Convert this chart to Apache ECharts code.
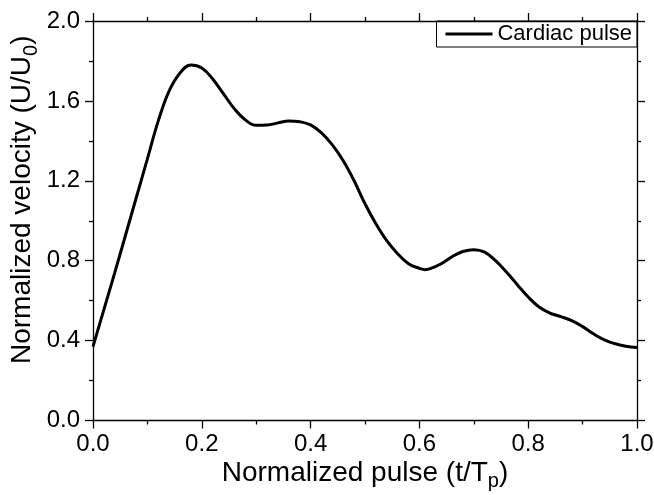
<!DOCTYPE html>
<html>
<head>
<meta charset="utf-8">
<script src="https://cdn.jsdelivr.net/npm/echarts@6/dist/echarts.min.js"></script>
<style>
html,body{margin:0;padding:0;background:#fff;}
#c{width:654px;height:495px;}
</style>
</head>
<body>
<div id="c"></div>
<script>
const seriesName = 'Cardiac pulse';
const tValues = [0.00,0.02,0.04,0.06,0.08,0.10,0.12,0.14,0.16,0.18,0.20,0.22,0.24,0.26,0.28,0.30,0.32,0.34,0.36,0.38,0.40,0.42,0.44,0.46,0.48,0.50,0.52,0.54,0.56,0.58,0.60,0.61,0.62,0.64,0.66,0.68,0.70,0.72,0.74,0.76,0.78,0.80,0.82,0.84,0.86,0.88,0.90,0.92,0.94,0.96,0.98,1.00];
const velocity = [0.37,0.555,0.74,0.93,1.12,1.31,1.50,1.65,1.74,1.78,1.765,1.71,1.635,1.56,1.505,1.478,1.479,1.49,1.50,1.496,1.48,1.44,1.38,1.30,1.20,1.085,0.985,0.90,0.835,0.785,0.762,0.755,0.76,0.785,0.82,0.846,0.855,0.843,0.80,0.743,0.68,0.618,0.568,0.538,0.52,0.50,0.47,0.434,0.404,0.384,0.372,0.365];
const xTitle = 'Normalized pulse (t/T{sub|p})';
const yTitle = 'Normalized velocity (U/U{sub|0})';

const chart = echarts.init(document.getElementById('c'), null, {renderer:'canvas'});
const FONT = '"Liberation Sans", Arial, sans-serif';
const black = '#000';
const data = tValues.map((t,i)=>[t, velocity[i]]);

const commonAxis = {
  axisLine:{show:true, onZero:false, lineStyle:{color:black, width:1.3}},
  axisTick:{show:true, inside:false, length:8, lineStyle:{color:black, width:1.3}},
  minorTick:{show:true, splitNumber:2, length:4, lineStyle:{color:black, width:1.3}},
  splitLine:{show:false}
};
const subStyle = {fontFamily:FONT, fontSize:20, color:black, verticalAlign:'bottom', padding:[17,0,0,0]};

chart.setOption({
  animation:false,
  backgroundColor:'#fff',
  grid:{left:93, right:17, top:21, bottom:74.5, containLabel:false, outerBoundsMode:'none'},
  legend:{
    right:17, top:21,
    data:[seriesName],
    icon:'rect',
    itemWidth:47, itemHeight:3, itemGap:0,
    padding:[2,5,2,9],
    borderColor:black, borderWidth:1, borderRadius:0,
    textStyle:{fontFamily:FONT, fontSize:22, color:black}
  },
  xAxis:[
    Object.assign({}, commonAxis, {
      type:'value', position:'bottom', min:0, max:1, interval:0.2,
      axisLabel:{show:true, margin:12, fontFamily:FONT, fontSize:24, color:black, formatter:v=>v.toFixed(1)},
      name:xTitle, nameLocation:'middle', nameGap:34, nameMoveOverlap:false,
      nameTextStyle:{fontFamily:FONT, fontSize:28, color:black, rich:{sub:subStyle}}
    }),
    Object.assign({}, commonAxis, {
      type:'value', position:'top', min:0, max:1, interval:0.2,
      axisLabel:{show:false}
    })
  ],
  yAxis:[
    Object.assign({}, commonAxis, {
      type:'value', position:'left', min:0, max:2, interval:0.4,
      axisLabel:{show:true, margin:13, fontFamily:FONT, fontSize:24, color:black, formatter:v=>v.toFixed(1)},
      name:yTitle, nameLocation:'middle', nameGap:52, nameRotate:90, nameMoveOverlap:false,
      nameTextStyle:{fontFamily:FONT, fontSize:28, color:black, padding:[0,0,0,42], rich:{sub:subStyle}}
    }),
    Object.assign({}, commonAxis, {
      type:'value', position:'right', min:0, max:2, interval:0.4,
      axisLabel:{show:false}
    })
  ],
  series:[{
    name:seriesName, type:'line', data:data,
    xAxisIndex:0, yAxisIndex:0,
    smooth:0.4, symbol:'none', showSymbol:false,
    lineStyle:{color:black, width:3},
    itemStyle:{color:black}
  }]
});
</script>
</body>
</html>
